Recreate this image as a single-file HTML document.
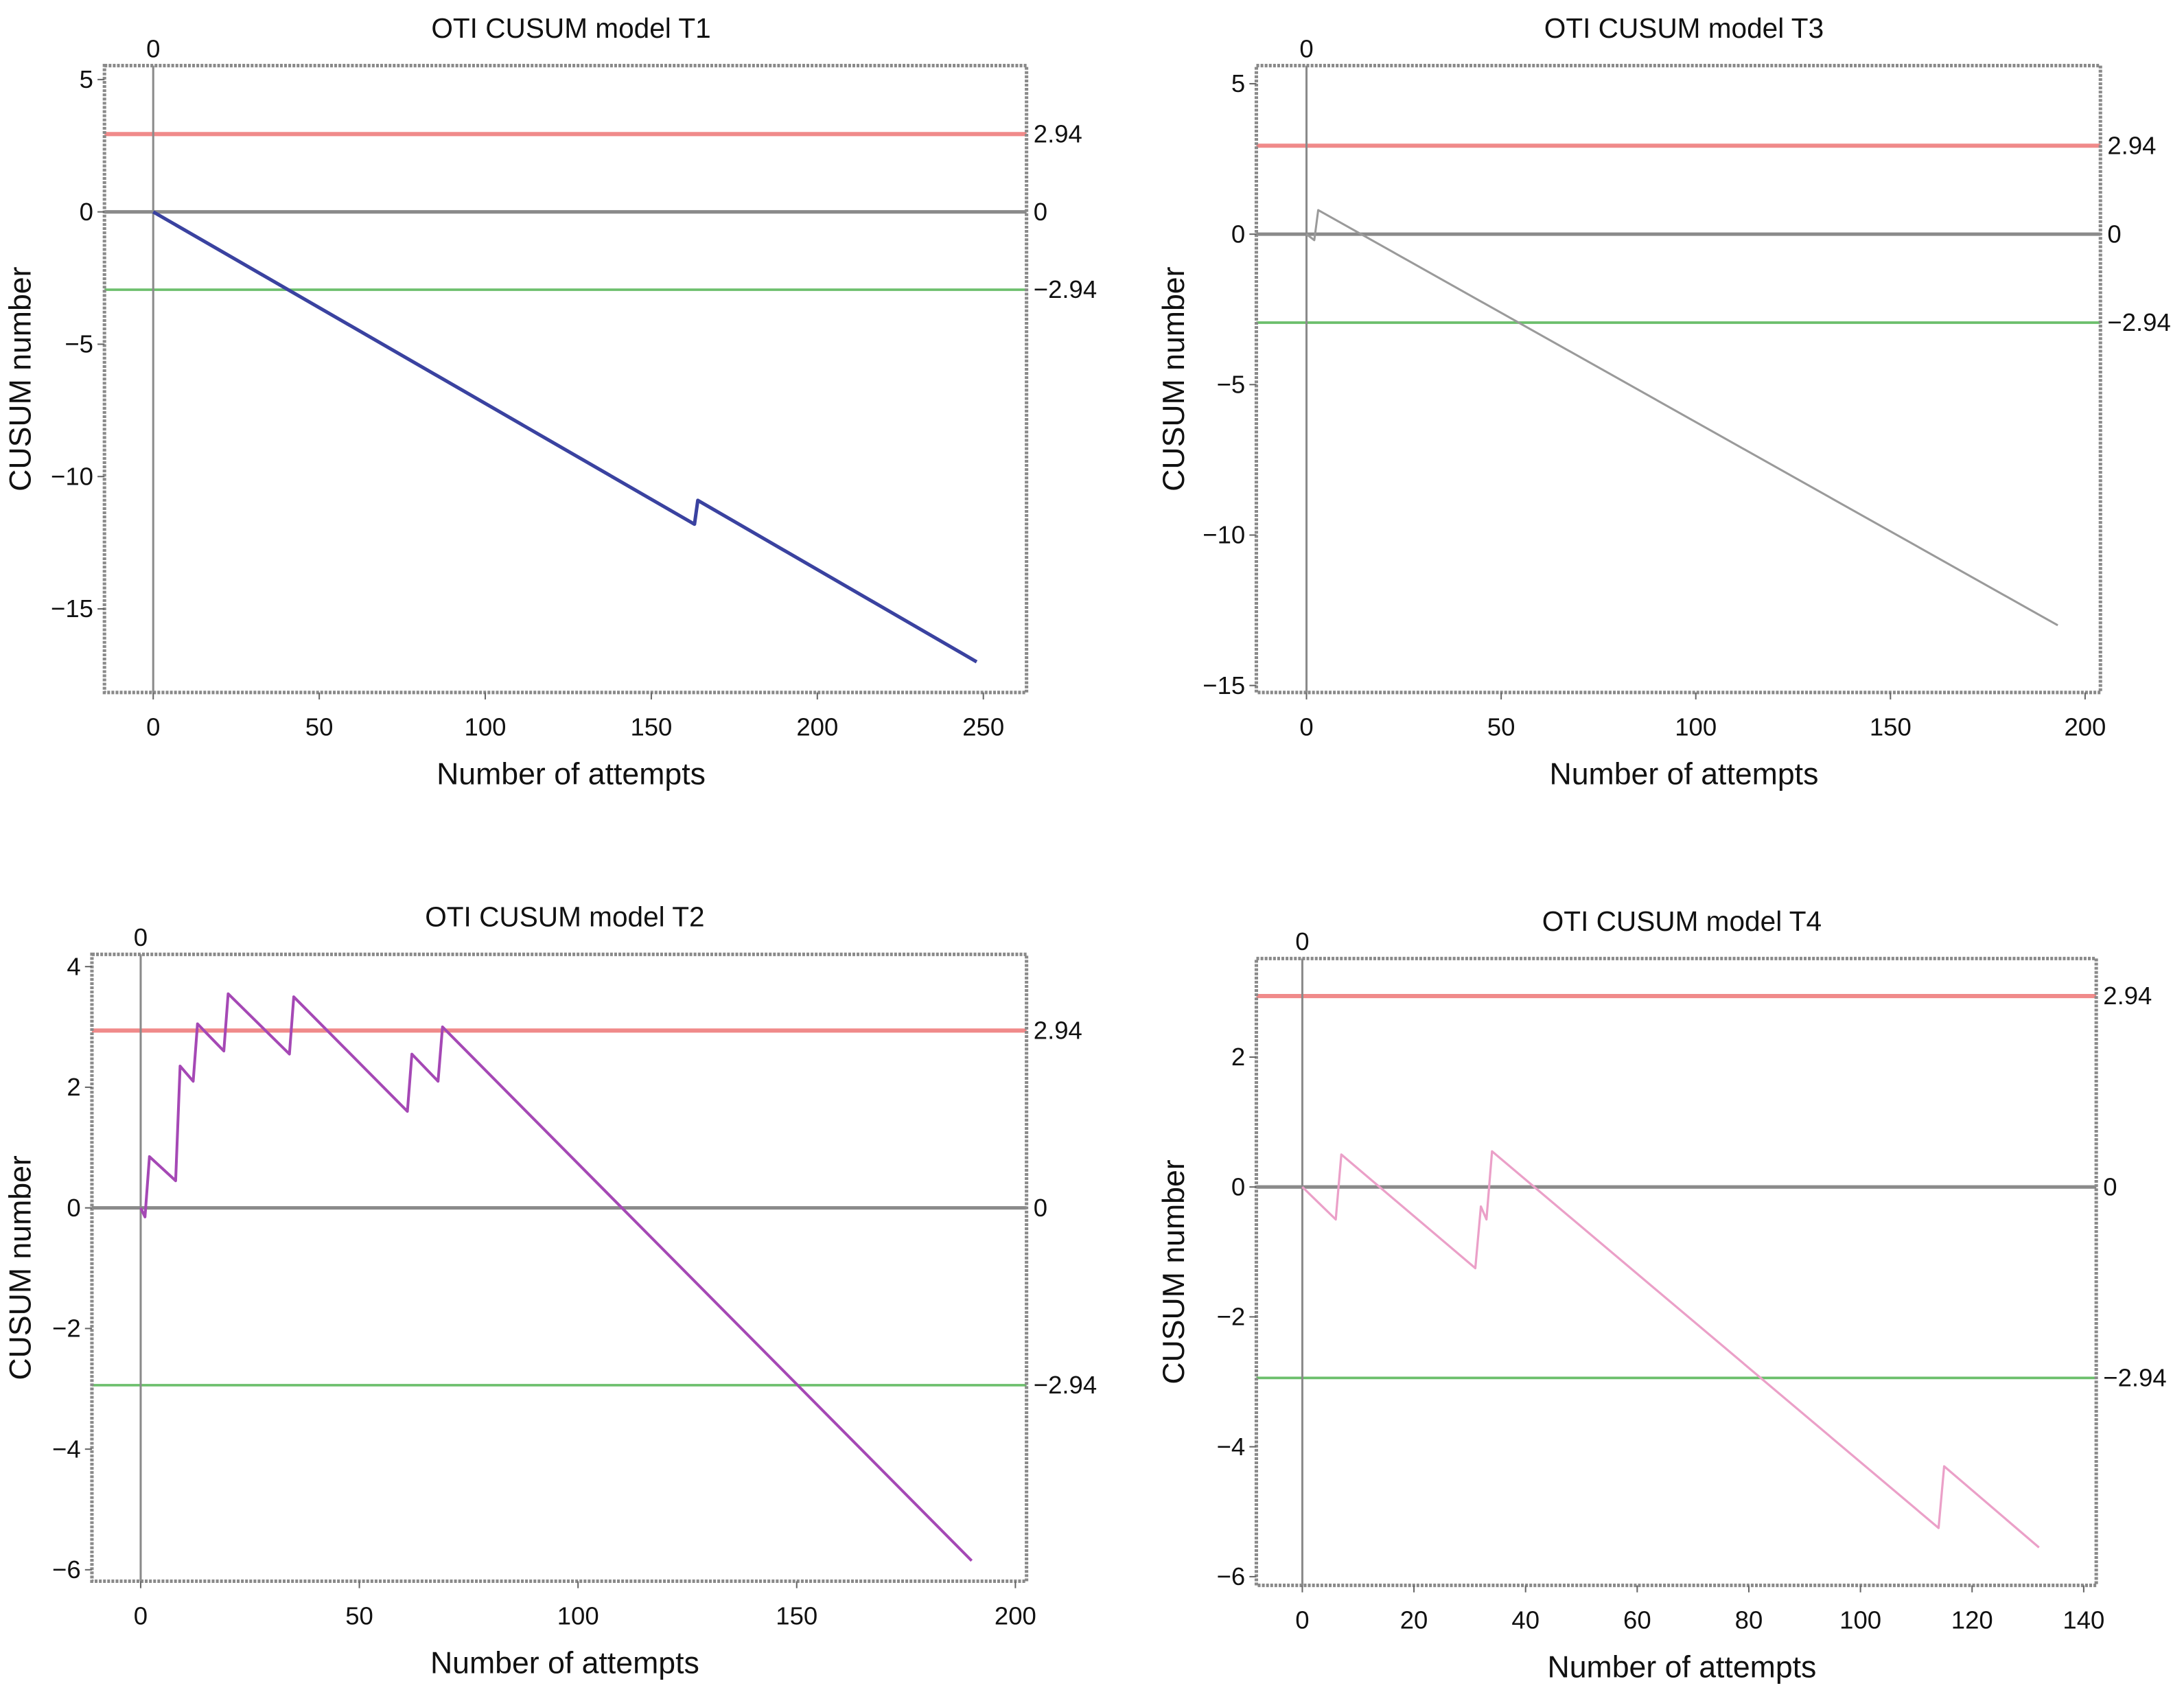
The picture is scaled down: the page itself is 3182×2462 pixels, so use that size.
<!DOCTYPE html>
<html><head><meta charset="utf-8"><style>
html,body{margin:0;padding:0;background:#fff}
svg{display:block}
text{font-family:"Liberation Sans",sans-serif;fill:#111}
</style></head><body>
<svg id="chart" width="3182" height="2462" viewBox="0 0 1568 1213" xmlns="http://www.w3.org/2000/svg"></svg>
<script>
// T1 data
const t1X = [0, 163, 164, 248];
const t1Y = [0, -11.8, -10.9, -17];
const t1XTicks = [0, 50, 100, 150, 200, 250];
const t1YTicks = [5, 0, -5, -10, -15];
// T3 data
const t3X = [0, 2, 3, 193];
const t3Y = [0, -0.2, 0.8, -13];
const t3XTicks = [0, 50, 100, 150, 200];
const t3YTicks = [5, 0, -5, -10, -15];
// T2 data
const t2X = [0, 1, 2, 8, 9, 12, 13, 19, 20, 34, 35, 61, 62, 68, 69, 190];
const t2Y = [0, -0.15, 0.85, 0.45, 2.35, 2.1, 3.05, 2.6, 3.55, 2.55, 3.5, 1.6, 2.55, 2.1, 3.0, -5.85];
const t2XTicks = [0, 50, 100, 150, 200];
const t2YTicks = [4, 2, 0, -2, -4, -6];
// T4 data
const t4X = [0, 6, 7, 31, 32, 33, 34, 114, 115, 132];
const t4Y = [0, -0.5, 0.5, -1.25, -0.3, -0.5, 0.55, -5.25, -4.3, -5.55];
const t4XTicks = [0, 20, 40, 60, 80, 100, 120, 140];
const t4YTicks = [2, 0, -2, -4, -6];
const limits = [2.94, 0, -2.94];
const limitLabels = ["2.94", "0", "\u22122.94"];

const svg = document.getElementById('chart');
const NS = 'http://www.w3.org/2000/svg';
function mk(tag, attrs, parent){ const e=document.createElementNS(NS,tag); for(const k in attrs) e.setAttribute(k,attrs[k]); (parent||svg).appendChild(e); return e; }
function fmt(v){ return v<0 ? '\u2212'+Math.abs(v) : String(v); }

function panel(cfg){
  const g = mk('g',{});
  
  
  const sx = v => cfg.x0px + (v - cfg.x0) * cfg.xs;
  const sy = v => cfg.y0px - (v - cfg.y0) * cfg.ys;
  const L=cfg.L,R=cfg.R,T=cfg.T,B=cfg.B;
  const tt = mk('text',{x:(L+R)/2+4,y:T-20,'text-anchor':'middle','font-size':20},g);
  tt.textContent = cfg.title;
  
  
  const z = mk('text',{x:sx(0),y:T-6,'text-anchor':'middle','font-size':18},g);
  z.textContent='0';
  
  
  const colors=['#f08a8a','#8a8a8a','#6cbf6c'];
  const widths=[3,2.5,1.8];
  limits.forEach((v,i)=>{
    const ln = mk('line',{x1:L,x2:R,y1:sy(v),y2:sy(v),stroke:colors[i],'stroke-width':widths[i]},g);
    
    
    const lb = mk('text',{x:R+5,y:sy(v)+6,'font-size':18},g);
    lb.textContent = limitLabels[i];
    
    
  });
  const vz = mk('line',{x1:sx(0),x2:sx(0),y1:T,y2:B,stroke:'#8a8a8a','stroke-width':1.5},g);
  
  
  const fr = mk('rect',{x:L,y:T,width:R-L,height:B-T,fill:'none',stroke:'#8a8a8a','stroke-width':2.5,'stroke-dasharray':'2 1'},g);
  
  
  cfg.xt.forEach(v=>{
    mk('line',{x1:sx(v),x2:sx(v),y1:B,y2:B+5,stroke:'#666','stroke-width':1},g);
    const t = mk('text',{x:sx(v),y:B+31,'text-anchor':'middle','font-size':18},g);
    t.textContent = fmt(v);
    
    
  });
  cfg.yt.forEach(v=>{
    mk('line',{x1:L-5,x2:L,y1:sy(v),y2:sy(v),stroke:'#666','stroke-width':1},g);
    const t = mk('text',{x:L-8,y:sy(v)+6,'text-anchor':'end','font-size':18},g);
    t.textContent = fmt(v);
    
    
  });
  const xl = mk('text',{x:(L+R)/2+4,y:B+66,'text-anchor':'middle','font-size':22},g);
  xl.textContent='Number of attempts';
  
  
  const yx = cfg.ylx, yy=(T+B)/2;
  const yl = mk('text',{x:yx,y:yy,'text-anchor':'middle','font-size':22,transform:`rotate(-90 ${yx} ${yy})`},g);
  yl.textContent='CUSUM number';
  
  
  const pts = cfg.xs_.map((v,i)=>sx(v).toFixed(1)+','+sy(cfg.ys_[i]).toFixed(1)).join(' ');
  const pl = mk('polyline',{points:pts,fill:'none',stroke:cfg.color,'stroke-width':cfg.sw,'stroke-linejoin':'round'},g);
  
  
}

panel({name:'panel-t1',title:'OTI CUSUM model T1',L:75,R:737,T:47,B:497,x0:0,x0px:110,xs:(706-110)/250,y0:0,y0px:152,ys:(438-58)/20,xt:t1XTicks,yt:t1YTicks,xs_:t1X,ys_:t1Y,color:'#3a42a0',sw:2.5,ylx:22});
panel({name:'panel-t3',title:'OTI CUSUM model T3',L:902,R:1508,T:47,B:497,x0:0,x0px:938,xs:(1497-938)/200,y0:0,y0px:168,ys:(490-58)/20,xt:t3XTicks,yt:t3YTicks,xs_:t3X,ys_:t3Y,color:'#9a9a9a',sw:1.5,ylx:850});
panel({name:'panel-t2',title:'OTI CUSUM model T2',L:66,R:737,T:685,B:1135,x0:0,x0px:101,xs:(729-101)/200,y0:0,y0px:867,ys:(1127-694)/10,xt:t2XTicks,yt:t2YTicks,xs_:t2X,ys_:t2Y,color:'#a548b5',sw:2,ylx:22});
panel({name:'panel-t4',title:'OTI CUSUM model T4',L:902,R:1505,T:688,B:1138,x0:0,x0px:935,xs:(1496-935)/140,y0:0,y0px:852,ys:(1131-758)/8,xt:t4XTicks,yt:t4YTicks,xs_:t4X,ys_:t4Y,color:'#eba0c8',sw:1.6,ylx:850});
</script>
</body></html>
